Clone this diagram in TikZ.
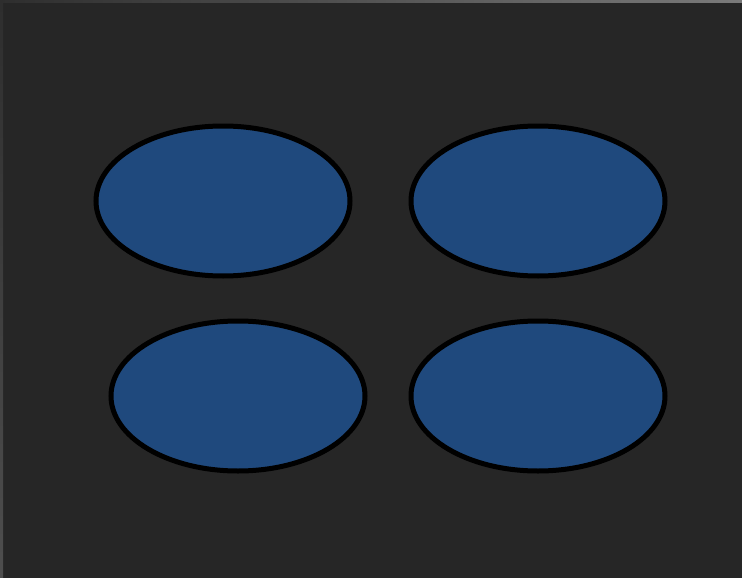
\documentclass[tikz,border=0pt]{standalone}
\usetikzlibrary{shapes.geometric}
\begin{document}
\begin{tikzpicture}[x=1pt,y=-1pt,
  blob/.style={ellipse, draw=black, line width=5pt, fill=blobfill, minimum width=254pt, minimum height=150pt, inner sep=0pt}]
\definecolor{bg}{HTML}{262626}
\definecolor{blobfill}{HTML}{1F497D}
\definecolor{edgeA}{HTML}{2E2E2E}
\definecolor{edgeB}{HTML}{7A7A7A}
\definecolor{edgeL}{HTML}{4E4E4E}
\fill[bg] (0,0) rectangle (742,578);
\useasboundingbox (0,0) rectangle (742,578);
\shade[left color=edgeA, right color=edgeB] (0,0) rectangle (742,3);
\shade[top color=edgeA, bottom color=edgeL] (0,3) rectangle (3,578);
\node[blob] (a) at (223,201) {};
\node[blob] (b) at (538,201) {};
\node[blob] (c) at (238,396) {};
\node[blob] (d) at (538,396) {};
\end{tikzpicture}
\end{document}
